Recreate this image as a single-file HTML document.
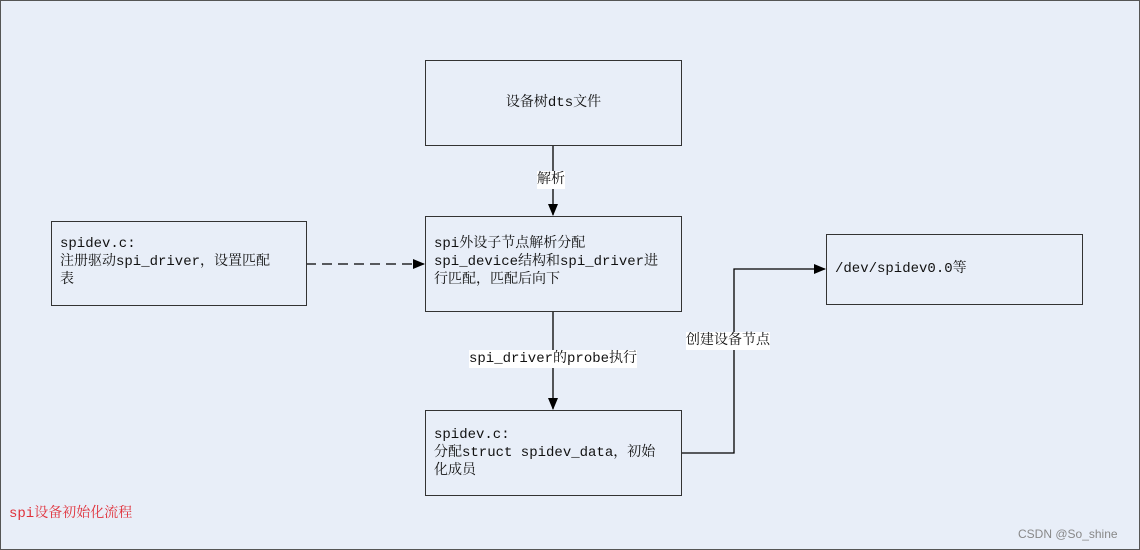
<!DOCTYPE html>
<html><head><meta charset="utf-8"><style>
html,body{margin:0;padding:0}
body{width:1140px;height:550px;position:relative;background:#e8eef8;overflow:hidden;font-family:"Liberation Mono","Noto Serif CJK SC",monospace;font-size:14px;color:#111}
.frame{position:absolute;left:0;top:0;width:1138px;height:548px;border:1px solid #555}
.box{position:absolute;border:1px solid #333;box-sizing:border-box;line-height:18px;padding-left:8px}
.lbl{position:absolute;background:#fff;line-height:18px;white-space:nowrap}
</style></head><body>
<div class="frame"></div>
<svg width="1140" height="550" style="position:absolute;left:0;top:0">
<defs><marker id="a" markerWidth="12" markerHeight="10" refX="11" refY="5" orient="auto" markerUnits="userSpaceOnUse"><path d="M0,0 L12,5 L0,10 z" fill="#000"/></marker></defs>
<g stroke="#000" stroke-width="1.3" fill="none">
<line x1="553" y1="145" x2="553" y2="215" marker-end="url(#a)"/>
<line x1="553" y1="311" x2="553" y2="409" marker-end="url(#a)"/>
<line x1="306" y1="264" x2="424" y2="264" stroke-dasharray="10,6" marker-end="url(#a)"/>
<polyline points="681,453 734,453 734,269 825,269" marker-end="url(#a)"/>
</g></svg>
<div class="box" style="left:425px;top:60px;width:257px;height:86px;text-align:center;padding:0;line-height:84px">设备树dts文件</div>
<div class="box" style="left:425px;top:216px;width:257px;height:96px;padding-top:18px">spi外设子节点解析分配<br>spi_device结构和spi_driver进<br>行匹配，匹配后向下</div>
<div class="box" style="left:51px;top:221px;width:256px;height:85px;padding-top:13px">spidev.c:<br>注册驱动spi_driver，设置匹配<br>表</div>
<div class="box" style="left:425px;top:410px;width:257px;height:86px;padding-top:15px">spidev.c:<br>分配struct spidev_data，初始<br>化成员</div>
<div class="box" style="left:826px;top:234px;width:257px;height:71px;line-height:69px">/dev/spidev0.0等</div>
<div class="lbl" style="left:537px;top:171px">解析</div>
<div class="lbl" style="left:469px;top:350px">spi_driver的probe执行</div>
<div class="lbl" style="left:686px;top:332px">创建设备节点</div>
<div style="position:absolute;left:9px;top:505px;color:#e0303a;line-height:18px">spi设备初始化流程</div>
<div style="position:absolute;left:1018px;top:527px;color:#888;font-family:'Liberation Sans',sans-serif;font-size:12px">CSDN @So_shine</div>
</body></html>
